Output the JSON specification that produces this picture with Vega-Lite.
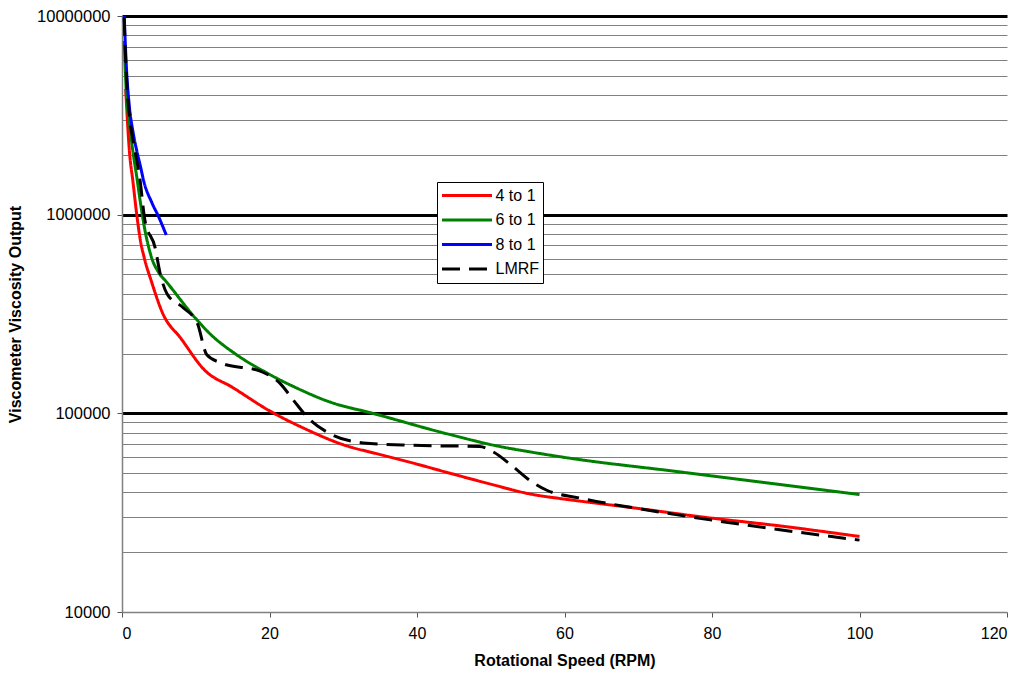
{
  "$schema": "https://vega.github.io/schema/vega-lite/v6.json",
  "autosize": {"type": "none"},
  "padding": {"left": 122, "top": 16, "right": 20, "bottom": 69},
  "width": 885,
  "height": 596,
  "background": "white",
  "config": {
    "view": {"stroke": null},
    "font": "Liberation Sans"
  },
  "data": {
    "values": [
      {"series": "4 to 1", "rpm": 0.5, "visc": 4300000},
      {"series": "4 to 1", "rpm": 1, "visc": 2100000},
      {"series": "4 to 1", "rpm": 1.5, "visc": 1450000},
      {"series": "4 to 1", "rpm": 2, "visc": 1000000},
      {"series": "4 to 1", "rpm": 2.5, "visc": 740000},
      {"series": "4 to 1", "rpm": 3, "visc": 610000},
      {"series": "4 to 1", "rpm": 4, "visc": 460000},
      {"series": "4 to 1", "rpm": 5.5, "visc": 320000},
      {"series": "4 to 1", "rpm": 8, "visc": 238000},
      {"series": "4 to 1", "rpm": 11.2, "visc": 165000},
      {"series": "4 to 1", "rpm": 15, "visc": 135000},
      {"series": "4 to 1", "rpm": 20, "visc": 103000},
      {"series": "4 to 1", "rpm": 25, "visc": 83000},
      {"series": "4 to 1", "rpm": 30, "visc": 69500},
      {"series": "4 to 1", "rpm": 35, "visc": 62000},
      {"series": "4 to 1", "rpm": 40, "visc": 55500},
      {"series": "4 to 1", "rpm": 44, "visc": 50500},
      {"series": "4 to 1", "rpm": 50, "visc": 44000},
      {"series": "4 to 1", "rpm": 55.3, "visc": 39300},
      {"series": "4 to 1", "rpm": 60, "visc": 37000},
      {"series": "4 to 1", "rpm": 63.5, "visc": 35600},
      {"series": "4 to 1", "rpm": 70, "visc": 33200},
      {"series": "4 to 1", "rpm": 78, "visc": 30300},
      {"series": "4 to 1", "rpm": 90, "visc": 26900},
      {"series": "4 to 1", "rpm": 100, "visc": 24000},

      {"series": "6 to 1", "rpm": 0.3, "visc": 7500000},
      {"series": "6 to 1", "rpm": 0.6, "visc": 4000000},
      {"series": "6 to 1", "rpm": 1, "visc": 2900000},
      {"series": "6 to 1", "rpm": 1.5, "visc": 2050000},
      {"series": "6 to 1", "rpm": 2, "visc": 1550000},
      {"series": "6 to 1", "rpm": 2.5, "visc": 1150000},
      {"series": "6 to 1", "rpm": 3, "visc": 880000},
      {"series": "6 to 1", "rpm": 4, "visc": 610000},
      {"series": "6 to 1", "rpm": 5, "visc": 510000},
      {"series": "6 to 1", "rpm": 6, "visc": 460000},
      {"series": "6 to 1", "rpm": 10, "visc": 300000},
      {"series": "6 to 1", "rpm": 12, "visc": 250000},
      {"series": "6 to 1", "rpm": 15.3, "visc": 200000},
      {"series": "6 to 1", "rpm": 19.6, "visc": 160000},
      {"series": "6 to 1", "rpm": 23.7, "visc": 134000},
      {"series": "6 to 1", "rpm": 28.2, "visc": 114000},
      {"series": "6 to 1", "rpm": 34, "visc": 100000},
      {"series": "6 to 1", "rpm": 44, "visc": 79000},
      {"series": "6 to 1", "rpm": 51.3, "visc": 68000},
      {"series": "6 to 1", "rpm": 55.3, "visc": 64000},
      {"series": "6 to 1", "rpm": 60, "visc": 60000},
      {"series": "6 to 1", "rpm": 75.7, "visc": 50700},
      {"series": "6 to 1", "rpm": 100, "visc": 39000},

      {"series": "8 to 1", "rpm": 0.3, "visc": 10000000},
      {"series": "8 to 1", "rpm": 0.6, "visc": 5500000},
      {"series": "8 to 1", "rpm": 1, "visc": 3500000},
      {"series": "8 to 1", "rpm": 1.5, "visc": 2600000},
      {"series": "8 to 1", "rpm": 2, "visc": 2100000},
      {"series": "8 to 1", "rpm": 2.5, "visc": 1750000},
      {"series": "8 to 1", "rpm": 3, "visc": 1450000},
      {"series": "8 to 1", "rpm": 4, "visc": 1160000},
      {"series": "8 to 1", "rpm": 5, "visc": 970000},
      {"series": "8 to 1", "rpm": 6, "visc": 790000},

      {"series": "LMRF", "rpm": 0.3, "visc": 9800000},
      {"series": "LMRF", "rpm": 0.5, "visc": 6000000},
      {"series": "LMRF", "rpm": 0.68, "visc": 4400000},
      {"series": "LMRF", "rpm": 1.08, "visc": 3000000},
      {"series": "LMRF", "rpm": 1.76, "visc": 2100000},
      {"series": "LMRF", "rpm": 2.44, "visc": 1500000},
      {"series": "LMRF", "rpm": 3.1, "visc": 940000},
      {"series": "LMRF", "rpm": 4.5, "visc": 680000},
      {"series": "LMRF", "rpm": 5.15, "visc": 510000},
      {"series": "LMRF", "rpm": 6.1, "visc": 400000},
      {"series": "LMRF", "rpm": 8.3, "visc": 340000},
      {"series": "LMRF", "rpm": 10.2, "visc": 285000},
      {"series": "LMRF", "rpm": 11.5, "visc": 197000},
      {"series": "LMRF", "rpm": 13.3, "visc": 180000},
      {"series": "LMRF", "rpm": 19.1, "visc": 161000},
      {"series": "LMRF", "rpm": 21.4, "visc": 142000},
      {"series": "LMRF", "rpm": 23.2, "visc": 117000},
      {"series": "LMRF", "rpm": 25.2, "visc": 95000},
      {"series": "LMRF", "rpm": 28.2, "visc": 79000},
      {"series": "LMRF", "rpm": 32.7, "visc": 71000},
      {"series": "LMRF", "rpm": 39.5, "visc": 69000},
      {"series": "LMRF", "rpm": 48.5, "visc": 68000},
      {"series": "LMRF", "rpm": 50.3, "visc": 64000},
      {"series": "LMRF", "rpm": 53, "visc": 54000},
      {"series": "LMRF", "rpm": 55.3, "visc": 46000},
      {"series": "LMRF", "rpm": 57.6, "visc": 41000},
      {"series": "LMRF", "rpm": 62, "visc": 37500},
      {"series": "LMRF", "rpm": 71, "visc": 32700},
      {"series": "LMRF", "rpm": 80, "visc": 29000},
      {"series": "LMRF", "rpm": 100, "visc": 23000}
    ]
  },
  "mark": {"type": "line", "strokeWidth": 3, "interpolate": "monotone"},
  "encoding": {
    "x": {
      "field": "rpm",
      "type": "quantitative",
      "scale": {"domain": [0, 120], "nice": false},
      "axis": {
        "title": "Rotational Speed (RPM)",
        "values": [0, 20, 40, 60, 80, 100, 120],
        "grid": false,
        "domainColor": "#808080",
        "domainWidth": 1.5,
        "tickColor": "#555555",
        "tickSize": 5,
        "labelFont": "Liberation Sans",
        "labelFontSize": 16,
        "labelColor": "black",
        "labelPadding": 8,
        "titleFont": "Liberation Sans",
        "titleFontSize": 16,
        "titleFontWeight": "bold",
        "titleColor": "black",
        "titlePadding": 11
      }
    },
    "y": {
      "field": "visc",
      "type": "quantitative",
      "scale": {"type": "log", "domain": [10000, 10000000], "nice": false},
      "axis": {
        "title": "Viscometer Viscosity Output",
        "values": [10000, 20000, 30000, 40000, 50000, 60000, 70000, 80000, 90000,
                   100000, 200000, 300000, 400000, 500000, 600000, 700000, 800000, 900000,
                   1000000, 2000000, 3000000, 4000000, 5000000, 6000000, 7000000, 8000000, 9000000,
                   10000000],
        "labelExpr": "indexof([10000,100000,1000000,10000000], datum.value) >= 0 ? format(datum.value, 'd') : ''",
        "grid": true,
        "gridColor": {"condition": {"test": "indexof([100000,1000000,10000000], datum.value) >= 0", "value": "black"}, "value": "#808080"},
        "gridWidth": {"condition": {"test": "indexof([100000,1000000,10000000], datum.value) >= 0", "value": 3}, "value": 1},
        "gridOpacity": {"condition": {"test": "datum.value == 10000", "value": 0}, "value": 1},
        "tickOpacity": {"condition": {"test": "indexof([10000,100000,1000000,10000000], datum.value) >= 0", "value": 1}, "value": 0},
        "domainColor": "#808080",
        "domainWidth": 1.5,
        "tickColor": "#555555",
        "tickSize": 5,
        "labelFont": "Liberation Sans",
        "labelFontSize": 16.5,
        "labelColor": "black",
        "labelPadding": 7,
        "titleFont": "Liberation Sans",
        "titleFontSize": 16,
        "titleFontWeight": "bold",
        "titleColor": "black",
        "titlePadding": 13
      }
    },
    "color": {
      "field": "series",
      "type": "nominal",
      "scale": {"domain": ["4 to 1", "6 to 1", "8 to 1", "LMRF"], "range": ["#ff0000", "#008000", "#0000ff", "#000000"]},
      "legend": {
        "title": null,
        "orient": "none",
        "legendX": 315,
        "legendY": 166,
        "symbolType": "stroke",
        "symbolSize": 2500,
        "symbolStrokeWidth": 3,
        "labelFont": "Liberation Sans",
        "labelFontSize": 16,
        "labelColor": "black",
        "labelOffset": 2,
        "clipHeight": 20,
        "strokeColor": "#000000",
        "fillColor": "white",
        "padding": 3.5,
        "rowPadding": 4.5
      }
    },
    "strokeDash": {
      "field": "series",
      "type": "nominal",
      "scale": {"domain": ["4 to 1", "6 to 1", "8 to 1", "LMRF"], "range": [[1, 0], [1, 0], [1, 0], [18, 9]]},
      "legend": null
    }
  }
}
